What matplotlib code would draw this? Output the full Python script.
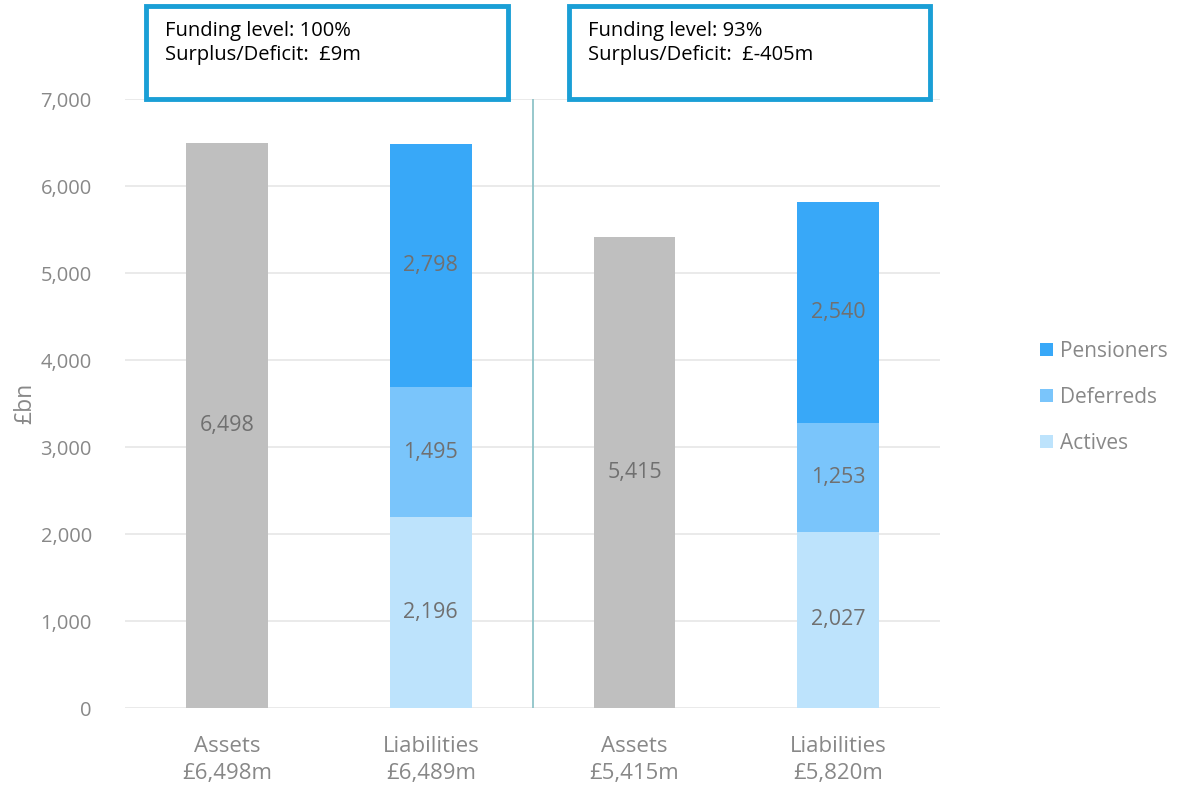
import numpy as np
import matplotlib
matplotlib.use("Agg")
import matplotlib.pyplot as plt
from matplotlib.patches import Rectangle

# data
categories = ["Assets\n£6,498m", "Liabilities\n£6,489m", "Assets\n£5,415m", "Liabilities\n£5,820m"]
assets = [6498, 0, 5415, 0]
actives = [0, 2196, 0, 2027]
deferreds = [0, 1495, 0, 1253]
pensioners = [0, 2798, 0, 2540]
box_texts = ["Funding level: 100%\nSurplus/Deficit:  £9m",
             "Funding level: 93%\nSurplus/Deficit:  £-405m"]

plt.rcParams['font.family'] = ['Open Sans', 'DejaVu Sans']

grey_txt = "#888888"
c_assets = "#bfbfbf"
c_act = "#bde3fc"
c_def = "#7ac5fb"
c_pen = "#38a8f8"

fig = plt.figure(figsize=(11.81, 7.86), dpi=100)
ax = fig.add_axes([0.106, 0.099, 0.69, 0.775])

x = np.arange(len(categories))
w = 0.4
act = np.array(actives)
dfr = np.array(deferreds)
pen = np.array(pensioners)
ax.bar(x, assets, w, color=c_assets, zorder=3)
b1 = ax.bar(x, act, w, color=c_act, zorder=3, label="Actives")
b2 = ax.bar(x, dfr, w, bottom=act, color=c_def, zorder=3, label="Deferreds")
b3 = ax.bar(x, pen, w, bottom=act + dfr, color=c_pen, zorder=3, label="Pensioners")

# value labels in the middle of each segment
for i in range(len(x)):
    if assets[i]:
        ax.text(x[i], assets[i] / 2, f"{assets[i]:,}", ha="center", va="center",
                color="#707070", fontsize=15.5, zorder=4)
    base = 0
    for vals in (act, dfr, pen):
        if vals[i]:
            ax.text(x[i], base + vals[i] / 2, f"{vals[i]:,}", ha="center", va="center",
                    color="#707070", fontsize=15.5, zorder=4)
            base += vals[i]

ax.set_xlim(-0.5, 3.5)
ax.set_ylim(0, 7000)
ax.set_yticks(range(0, 7001, 1000))
ax.yaxis.set_major_formatter(matplotlib.ticker.FuncFormatter(lambda v, p: f"{int(v):,}"))
ax.set_xticks(x)
ax.set_xticklabels(categories, fontsize=16, linespacing=1.4)
ax.tick_params(axis="both", length=0, labelcolor=grey_txt)
ax.tick_params(axis="y", labelsize=14.5, pad=24)
ax.tick_params(axis="x", pad=20)
for s in ax.spines.values():
    s.set_visible(False)
ax.grid(axis="y", color="#e6e6e6", linewidth=1.2, zorder=0)
ax.set_ylabel("£bn", fontsize=16.5, color=grey_txt)
ax.yaxis.set_label_coords(-0.108, 0.5)

# divider between the two groups
ax.axvline(1.5, color="#8fc4c8", linewidth=1.3, zorder=2)

# legend
handles = [b3, b2, b1]
leg = ax.legend(handles, ["Pensioners", "Deferreds", "Actives"], loc="center left",
                bbox_to_anchor=(1.10, 0.51), frameon=False, fontsize=15,
                handlelength=0.6, handleheight=0.6, handletextpad=0.35, labelspacing=1.2)
for t in leg.get_texts():
    t.set_color(grey_txt)

# funding boxes
W, H = 1181, 786
boxes = [(146, 508), (569, 930)]
for (x0, x1), txt in zip(boxes, box_texts):
    fig.patches.append(Rectangle((x0 / W, 1 - 99 / H), (x1 - x0) / W, 93 / H,
                                 transform=fig.transFigure, fill=True, facecolor="white",
                                 edgecolor="#1a9fd6", linewidth=3.5, zorder=5))
    fig.text((x0 + 19) / W, 1 - 43 / H, txt, fontsize=14.5, color="black",
             va="center", ha="left", linespacing=1.25, zorder=6)

fig.savefig("out.png", dpi=100)
